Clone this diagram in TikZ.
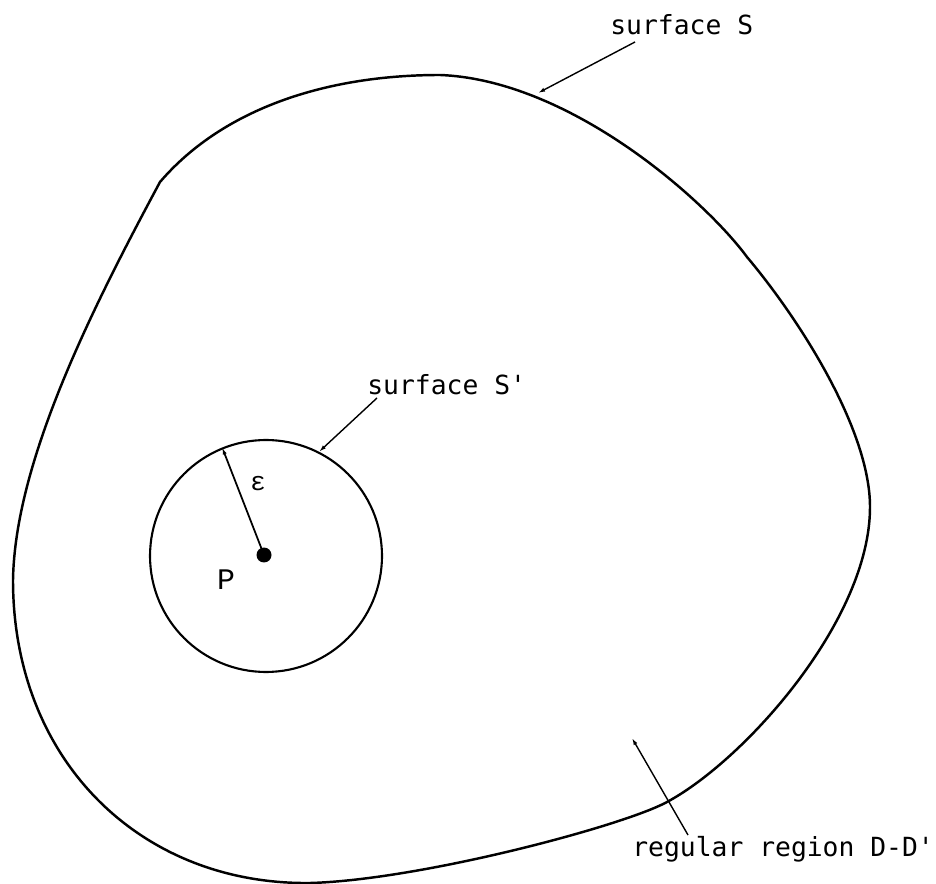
\documentclass[tikz,border=0pt]{standalone}
\usepackage{fontspec}
\usepackage{tikz}
\usetikzlibrary{arrows.meta}
\newfontfamily\labelfont{DejaVu Sans Mono}
\newfontfamily\typefont{Liberation Mono}
\tikzset{
  outline/.style={line width=1.4pt, line join=round},
  leader/.style={-{Latex[length=4pt,width=2.4pt]}, line width=0.8pt},
  tag/.style={font=\labelfont\fontsize{15}{17}\selectfont, inner sep=0pt, anchor=base west}
}

\begin{document}
\begin{tikzpicture}[x=0.02cm, y=-0.02cm]

  \useasboundingbox (0,0) rectangle (936,884);

  % outer surface S (starts and ends at the corner on the upper left)
  \draw[outline] (160,182)
    .. controls (220,112) and (320,75) .. (440,75)
    .. controls (570,80) and (705,200) .. (747,257)
    .. controls (800,320) and (870,430) .. (870,507)
    .. controls (870,620) and (745,760) .. (667,802)
    .. controls (623,826) and (420,880) .. (310,883)
    .. controls (140,885) and (13,760) .. (13,580)
    .. controls (15,460) and (94,305) .. (160,182);

  % inner surface S' and the point P
  \node[draw, circle, line width=1.2pt, inner sep=0pt, minimum size=4.64cm] (sphere) at (266,556) {};
  \node[circle, fill, inner sep=0pt, minimum size=0.3cm] (P) at (264,555) {};
  \draw[leader, line width=1pt] (P.center) -- (sphere.112);
  \node[font=\typefont\fontsize{15}{16}\selectfont, inner sep=0pt] (eps) at (258,484) {ε};
  \node[font=\typefont\fontsize{17}{18}\selectfont, inner sep=0pt] (Plabel) at (226,580) {P};

  % labels
  \node[tag] (Slabel) at (610,35) {surface S};
  \node[tag] (Splabel) at (367,395) {surface S'};
  \node[tag] (Dlabel) at (632,856) {regular region D-D'};

  % leaders
  \coordinate (Sfoot) at (635,42);
  \coordinate (Stip) at (538,93);
  \coordinate (Spfoot) at (377,398);
  \coordinate (Dfoot) at (688,835);
  \coordinate (Dtip) at (632,738);
  \draw[leader] (Sfoot) -- (Stip);
  \draw[leader] (Spfoot) -- (sphere.63);
  \draw[leader] (Dfoot) -- (Dtip);

\end{tikzpicture}
\end{document}
